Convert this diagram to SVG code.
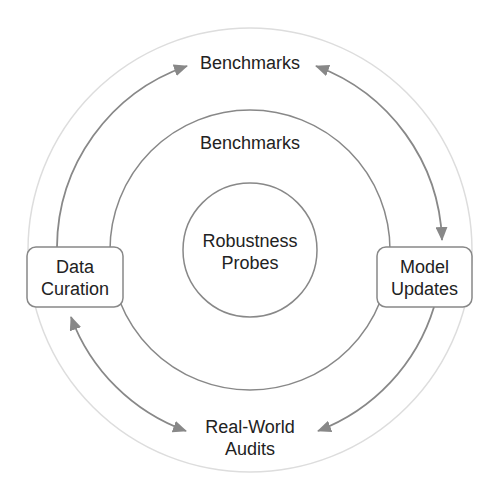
<svg xmlns="http://www.w3.org/2000/svg" width="500" height="500" viewBox="0 0 500 500">
<style>
text{font-family:"Liberation Sans",Arial,sans-serif;font-size:18px;fill:#222;text-anchor:middle}
.ring{fill:none;stroke:#888;stroke-width:1.5}
.outer{fill:none;stroke:#ddd;stroke-width:1.5}
.box{fill:#fff;stroke:#888;stroke-width:1.5}
.conn{fill:none;stroke:#888;stroke-width:1.8}
</style>
<defs>
<marker id="ah" viewBox="0 0 14 12" refX="13" refY="6" markerWidth="14" markerHeight="12" markerUnits="userSpaceOnUse" orient="auto-start-reverse">
<path d="M0,0 L14,6 L0,12 z" fill="#888"/>
</marker>
</defs>
<rect width="500" height="500" fill="#fff"/>
<circle class="outer" cx="250" cy="250" r="222"/>
<g id="benchmarks-ring">
<circle class="ring" cx="250" cy="250" r="140"/>
<text x="250" y="149">Benchmarks</text>
</g>
<g id="robustness-probes">
<circle class="ring" cx="250" cy="250" r="67"/>
<text x="250" y="247">Robustness</text>
<text x="250" y="269">Probes</text>
</g>
<g id="connectors">
<path class="conn" d="M57,247 A193,193 0 0 1 187,66" marker-end="url(#ah)"/>
<path class="conn" d="M316,66 A193,193 0 0 1 442,240" marker-start="url(#ah)" marker-end="url(#ah)"/>
<path class="conn" d="M434,307 A193,193 0 0 1 318,431" marker-end="url(#ah)"/>
<path class="conn" d="M186,431 A192,192 0 0 1 71,317" marker-start="url(#ah)" marker-end="url(#ah)"/>
</g>
<g id="benchmarks-top">
<text x="250" y="69">Benchmarks</text>
</g>
<g id="real-world-audits">
<text x="250" y="433">Real-World</text>
<text x="250" y="455">Audits</text>
</g>
<g id="data-curation">
<rect class="box" x="27" y="247" width="96" height="60" rx="9"/>
<text x="75" y="273">Data</text>
<text x="75" y="295">Curation</text>
</g>
<g id="model-updates">
<rect class="box" x="377" y="247" width="95" height="60" rx="9"/>
<text x="424.5" y="273">Model</text>
<text x="424.5" y="295">Updates</text>
</g>
</svg>
